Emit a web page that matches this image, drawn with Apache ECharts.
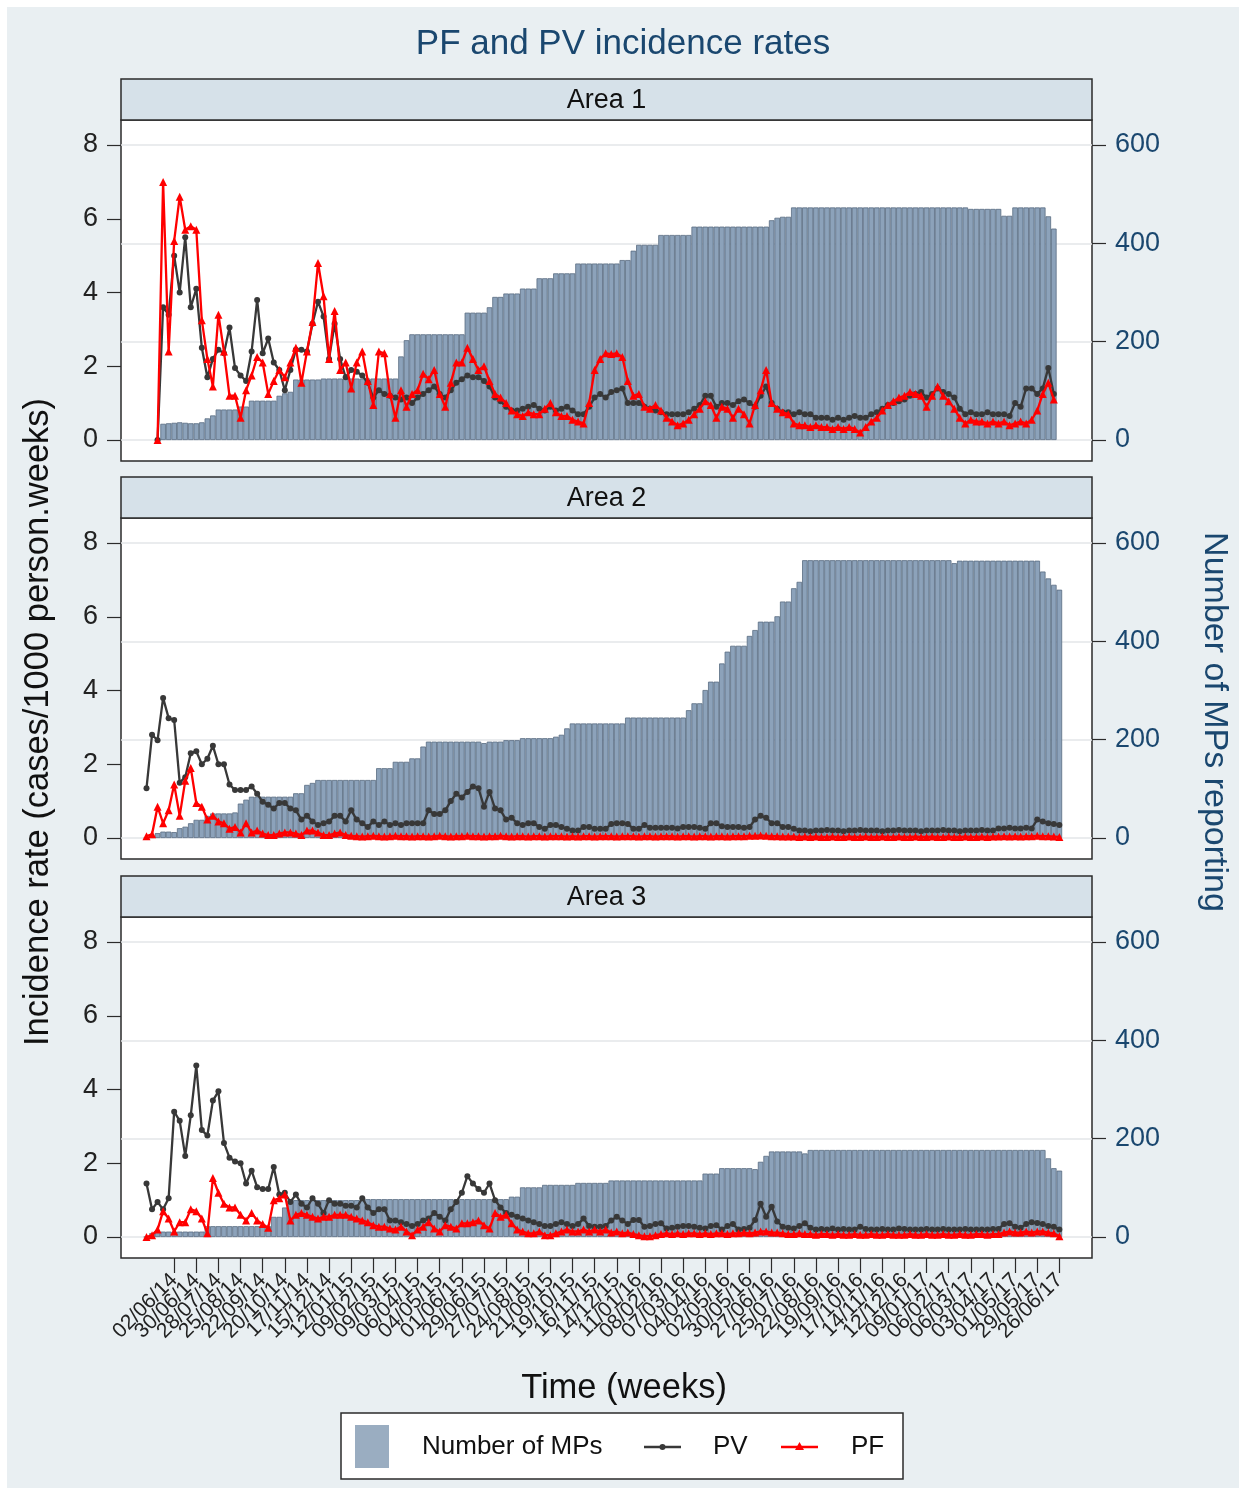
<!DOCTYPE html>
<html>
<head>
<meta charset="utf-8">
<script src="https://cdn.jsdelivr.net/npm/echarts@6/dist/echarts.min.js"></script>
<style>
html,body{margin:0;padding:0;background:#ffffff;overflow:hidden;}
#c{position:absolute;left:7px;top:7px;width:1232px;height:1481px;}
</style>
</head>
<body>
<div id="c"></div>
<script>
// ---------------- DATA ----------------
// weekly points j = 0..165 (first point = week of 28/04/14); tick labels every 4 weeks from j = 5
const tickLabels = ['02/06/14','30/06/14','28/07/14','25/08/14','22/09/14','20/10/14','17/11/14','15/12/14',
 '12/01/15','09/02/15','09/03/15','06/04/15','04/05/15','01/06/15','29/06/15','27/07/15','24/08/15','21/09/15','19/10/15','16/11/15','14/12/15',
 '11/01/16','08/02/16','07/03/16','04/04/16','02/05/16','30/05/16','27/06/16','25/07/16','22/08/16','19/09/16','17/10/16','14/11/16','12/12/16',
 '09/01/17','06/02/17','06/03/17','03/04/17','01/05/17','29/05/17','26/06/17'];
const tickStart = 5, tickStep = 4;
const panelNames = ['Area 1', 'Area 2', 'Area 3'];

// Area 1
const pf1 = [null, null,
 0, 7.0, 2.4, 5.4, 6.6, 5.7, 5.8, 5.7, 3.25, 2.2,
 1.45, 3.4, 2.4, 1.2, 1.2, 0.6, 1.35, 1.75, 2.25, 2.1,
 1.25, 1.6, 1.9, 1.7, 2.1, 2.5, 1.55, 2.4, 3.2, 4.8,
 3.9, 2.2, 3.5, 1.9, 2.1, 1.4, 2.1, 2.4, 1.6, 0.95,
 2.4, 2.35, 1.25, 0.6, 1.35, 0.9, 1.25, 1.35, 1.8, 1.65,
 1.9, 1.25, 0.9, 1.55, 2.1, 2.1, 2.5, 2.2, 1.9, 2.0,
 1.6, 1.25, 1.15, 1.0, 0.8, 0.7, 0.65, 0.75, 0.7, 0.7,
 0.85, 1.0, 0.75, 0.65, 0.65, 0.55, 0.5, 0.45, 1.0, 1.9,
 2.2, 2.35,
 2.33, 2.35, 2.25, 1.6, 1.2, 1.25, 0.9, 0.85, 0.95, 0.8,
 0.6, 0.5, 0.4, 0.45, 0.55, 0.7, 0.85, 1.05, 0.95, 0.6,
 0.9, 0.85, 0.6, 0.85, 0.7, 0.45, 0.95, 1.35, 1.9, 1.0,
 0.85, 0.75, 0.7, 0.45, 0.4, 0.4, 0.35, 0.4, 0.35, 0.35,
 0.3, 0.35, 0.3, 0.35, 0.3, 0.2, 0.35, 0.5, 0.6, 0.8,
 0.95, 1.05, 1.15, 1.2, 1.3, 1.25, 1.2, 0.9, 1.2, 1.45,
 1.2, 1.05, 0.85, 0.6, 0.45, 0.55, 0.5, 0.5, 0.45, 0.5,
 0.45, 0.5, 0.4, 0.45, 0.5, 0.45, 0.55, 0.8, 1.25, 1.55,
 1.1,
 null];
const pv1 = [null, null,
 0, 3.6, 3.4, 5.0, 4.0, 5.5, 3.6, 4.1, 2.5, 1.7,
 2.2, 2.45, 2.35, 3.05, 1.95, 1.75, 1.6, 2.4, 3.8, 2.35,
 2.75, 2.1, 1.9, 1.35, 1.9, 2.45, 2.45, 2.4, 3.15, 3.75,
 3.35, 2.2, 3.15, 2.2, 1.7, 1.9, 1.85, 1.75, 1.55, 1.15,
 1.35, 1.25, 1.2, 1.15, 1.1, 1.15, 1.0, 1.15, 1.25, 1.35,
 1.45, 1.25, 1.15, 1.35, 1.55, 1.65, 1.75, 1.7, 1.7, 1.6,
 1.45, 1.15, 1.05, 0.9, 0.8, 0.8, 0.85, 0.9, 0.95, 0.85,
 0.8, 0.9, 0.8, 0.85, 0.9, 0.8, 0.7, 0.7, 0.9, 1.15,
 1.25, 1.15,
 1.3, 1.35, 1.4, 1.0, 1.0, 1.0, 0.9, 0.85, 0.8, 0.75,
 0.7, 0.7, 0.7, 0.7, 0.75, 0.85, 0.95, 1.2, 1.2, 0.9,
 1.0, 1.0, 0.95, 1.05, 1.1, 1.0, 0.9, 1.2, 1.45, 1.0,
 0.85, 0.75, 0.75, 0.7, 0.75, 0.7, 0.7, 0.6, 0.6, 0.6,
 0.55, 0.6, 0.55, 0.6, 0.65, 0.6, 0.6, 0.7, 0.75, 0.85,
 0.95, 1.0, 1.05, 1.1, 1.2, 1.25, 1.3, 1.15, 1.25, 1.4,
 1.3, 1.25, 1.15, 0.85, 0.7, 0.75, 0.7, 0.7, 0.75, 0.7,
 0.7, 0.7, 0.65, 1.0, 0.9, 1.4, 1.4, 1.25, 1.4, 1.95,
 1.25,
 null];
const mp1 = [null, null,
 0, 33, 34, 35, 36, 35, 34, 34, 36, 44,
 50, 62, 62, 62, 62, 68, 68, 80, 80, 80,
 80, 80, 90, 95, 98, 123, 123, 123, 123, 123,
 125, 125, 125, 125, 125, 125, 125, 125, 125, 125,
 125, 125, 125, 125, 170, 203, 215, 215, 215, 215,
 215, 215, 215, 215, 215, 215, 259, 259, 259, 259,
 270, 291, 291, 298, 298, 298, 308, 308, 308, 329,
 329, 329, 339, 339, 339, 339, 359, 359, 359, 359,
 359, 359, 359, 359, 366, 366, 385, 397, 397, 397,
 397, 417, 417, 417, 417, 417, 417, 434, 434, 434,
 434, 434, 434, 434, 434, 434, 434, 434, 434, 434,
 434, 447, 452, 454, 454, 473, 473, 473, 473, 473,
 473, 473, 473, 473, 473, 473, 473, 473, 473, 473,
 473, 473, 473, 473, 473, 473, 473, 473, 473, 473,
 473, 473, 473, 473, 473, 473, 473, 470, 470, 470,
 470, 470, 470, 456, 456, 473, 473, 473, 473, 473,
 473, 455, 430,
 null];

// Area 2
const pv2 = [
 1.35, 2.8, 2.65, 3.8, 3.25, 3.2, 1.5, 1.65, 2.3, 2.35,
 2.0, 2.15, 2.5, 2.0, 2.0, 1.45, 1.3, 1.3, 1.3, 1.4,
 1.2, 0.98, 0.9, 0.8, 0.95, 0.95, 0.8, 0.75, 0.5, 0.6,
 0.45, 0.35, 0.4, 0.45, 0.6, 0.6, 0.45, 0.75, 0.5, 0.4,
 0.3, 0.45, 0.35, 0.45, 0.35, 0.4, 0.35, 0.4, 0.4, 0.4,
 0.4, 0.75, 0.65, 0.65, 0.75, 1.0, 1.2, 1.1, 1.25, 1.4,
 1.35, 0.85, 1.25, 0.8, 0.75, 0.5, 0.55, 0.4, 0.35, 0.4,
 0.4, 0.3, 0.25, 0.35, 0.35, 0.3, 0.25, 0.2, 0.2, 0.3,
 0.3, 0.25, 0.25, 0.25,
 0.38, 0.4, 0.4, 0.38, 0.25, 0.25, 0.35, 0.28, 0.28, 0.28,
 0.28, 0.28, 0.26, 0.3, 0.3, 0.3, 0.28, 0.25, 0.4, 0.4,
 0.32, 0.3, 0.3, 0.3, 0.28, 0.3, 0.5, 0.6, 0.55, 0.4,
 0.4, 0.3, 0.3, 0.25, 0.2, 0.2, 0.18, 0.2, 0.2, 0.22,
 0.2, 0.2, 0.18, 0.2, 0.2, 0.22, 0.2, 0.2, 0.2, 0.18,
 0.2, 0.2, 0.22, 0.2, 0.2, 0.2, 0.18, 0.2, 0.2, 0.2,
 0.22, 0.2, 0.2, 0.18, 0.2, 0.2, 0.2, 0.22, 0.2, 0.2,
 0.26, 0.26, 0.28, 0.26, 0.26, 0.28, 0.26, 0.5, 0.45, 0.4,
 0.38, 0.35];
const pf2 = [
 0.05, 0.1, 0.85, 0.4, 0.75, 1.45, 0.6, 1.55, 1.9, 0.95,
 0.85, 0.5, 0.6, 0.45, 0.4, 0.25, 0.3, 0.15, 0.4, 0.15,
 0.2, 0.12, 0.08, 0.08, 0.12, 0.15, 0.15, 0.12, 0.08, 0.2,
 0.2, 0.15, 0.08, 0.08, 0.12, 0.15, 0.08,
 0.06, 0.05, 0.04, 0.05, 0.06, 0.05, 0.04, 0.05, 0.06, 0.05,
 0.05, 0.04, 0.05, 0.05, 0.04, 0.05, 0.06, 0.05, 0.04, 0.05,
 0.05, 0.06, 0.05, 0.05, 0.04, 0.05, 0.05, 0.06, 0.05, 0.04,
 0.05, 0.05, 0.04, 0.05, 0.05, 0.04, 0.05, 0.05, 0.05, 0.04,
 0.05, 0.04, 0.05, 0.05, 0.04, 0.05, 0.05, 0.05, 0.04, 0.05,
 0.05, 0.05, 0.04, 0.05, 0.05, 0.04, 0.05, 0.05, 0.05, 0.04,
 0.05, 0.05, 0.04, 0.05, 0.05, 0.04, 0.05, 0.05, 0.04, 0.05,
 0.05, 0.05, 0.06, 0.06, 0.07, 0.06, 0.05, 0.05, 0.04, 0.04,
 0.04, 0.03, 0.04, 0.03, 0.04, 0.03, 0.03, 0.04, 0.03, 0.03,
 0.04, 0.03, 0.03, 0.04, 0.03, 0.03, 0.04, 0.03, 0.03, 0.04,
 0.03, 0.03, 0.04, 0.03, 0.03, 0.04, 0.03, 0.03, 0.04, 0.03,
 0.03, 0.04, 0.03, 0.03, 0.04, 0.03, 0.04, 0.04, 0.05, 0.04,
 0.05, 0.04, 0.05, 0.05, 0.06, 0.05, 0.05, 0.04, 0.03];
const mp2 = [
 0, 5, 10, 13, 13, 12, 20, 23, 30, 37,
 37, 45, 50, 50, 50, 50, 52, 70, 78, 84,
 84, 84, 84, 84, 84, 84, 84, 91, 91, 108,
 112, 118, 118, 118, 118, 118, 118, 118, 118, 118,
 118, 118, 142, 142, 142, 155, 155, 155, 162, 162,
 186, 196, 196, 196, 196, 196, 196, 196, 196, 196,
 196, 193, 196, 196, 196, 199, 199, 199, 203, 203,
 203, 203, 203, 203, 206, 210, 223, 233, 233, 233,
 233, 233, 233, 233, 233, 233, 233, 245, 245, 245,
 245, 245, 245, 245, 245, 245, 245, 245, 260, 274,
 274, 301, 318, 318, 355, 379, 391, 391, 391, 411,
 423, 440, 440, 440, 451, 481, 481, 508, 521, 565,
 565, 565, 565, 565, 565, 565, 565, 565, 565, 565,
 565, 565, 565, 565, 565, 565, 565, 565, 565, 565,
 565, 565, 565, 565, 565, 565, 559, 564, 564, 564,
 564, 564, 564, 564, 564, 564, 564, 564, 564, 564,
 564, 564, 542, 528, 515, 505];

// Area 3
const pv3 = [
 1.45, 0.75, 0.95, 0.75, 1.05, 3.4, 3.15, 2.2, 3.3, 4.65,
 2.9, 2.75, 3.7, 3.95, 2.55, 2.15, 2.05, 2.0, 1.45, 1.8,
 1.35, 1.3, 1.3, 1.9, 1.15, 1.2, 0.95, 1.15, 0.9, 0.8,
 1.05, 0.9, 0.65, 1.0, 0.9, 0.9, 0.85, 0.85, 0.8, 1.05,
 0.8, 0.65, 0.75, 0.75, 0.45, 0.45, 0.4, 0.35, 0.3, 0.35,
 0.45, 0.5, 0.65, 0.55, 0.45, 0.75, 0.95, 1.2, 1.65, 1.45,
 1.3, 1.2, 1.45, 1.0, 0.8, 0.65, 0.6, 0.55, 0.5, 0.45,
 0.4, 0.35, 0.3, 0.3, 0.35, 0.4, 0.35, 0.3, 0.35, 0.5,
 0.3, 0.28, 0.28, 0.3,
 0.45, 0.55, 0.45, 0.35, 0.46, 0.46, 0.28, 0.3, 0.35, 0.37,
 0.23, 0.25, 0.28, 0.3, 0.3, 0.28, 0.25, 0.23, 0.3, 0.32,
 0.2, 0.3, 0.35, 0.2, 0.22, 0.25, 0.46, 0.9, 0.55, 0.82,
 0.42, 0.28, 0.25, 0.23, 0.3, 0.37, 0.25, 0.2, 0.22, 0.2,
 0.23, 0.2, 0.22, 0.2, 0.2, 0.28, 0.22, 0.2, 0.2, 0.22,
 0.2, 0.2, 0.23, 0.22, 0.2, 0.2, 0.2, 0.22, 0.2, 0.2,
 0.22, 0.2, 0.2, 0.2, 0.22, 0.2, 0.2, 0.2, 0.2, 0.22,
 0.22, 0.35, 0.37, 0.28, 0.25, 0.35, 0.4, 0.38, 0.35, 0.3,
 0.28, 0.2];
const pf3 = [
 0, 0.05, 0.2, 0.7, 0.5, 0.15, 0.4, 0.4, 0.75, 0.7,
 0.5, 0.1, 1.6, 1.2, 0.9, 0.8, 0.8, 0.6, 0.45, 0.65,
 0.45, 0.35, 0.25, 1.0, 1.05, 1.15, 0.45, 0.6, 0.65, 0.6,
 0.55, 0.5, 0.55, 0.55, 0.6, 0.6, 0.6, 0.55, 0.5, 0.45,
 0.4, 0.32, 0.28, 0.28, 0.23, 0.2, 0.28, 0.15, 0.05, 0.2,
 0.28, 0.4, 0.23, 0.15, 0.32, 0.28, 0.23, 0.37, 0.37, 0.4,
 0.45, 0.32, 0.23, 0.65, 0.55, 0.6, 0.37, 0.2, 0.15, 0.1,
 0.1, 0.15, 0.05, 0.05, 0.1, 0.15, 0.2, 0.15, 0.15, 0.2,
 0.15, 0.2, 0.15, 0.2,
 0.12, 0.15, 0.1, 0.12, 0.08, 0.05, 0.02, 0.02, 0.05, 0.08,
 0.1, 0.08, 0.1, 0.08, 0.1, 0.1, 0.08, 0.1, 0.08, 0.1,
 0.1, 0.08, 0.1, 0.1, 0.12, 0.1, 0.12, 0.15, 0.15, 0.12,
 0.12, 0.1, 0.08, 0.08, 0.1, 0.08, 0.08, 0.06, 0.08, 0.08,
 0.06, 0.08, 0.06, 0.06, 0.08, 0.06, 0.06, 0.08, 0.06, 0.06,
 0.08, 0.06, 0.06, 0.06, 0.08, 0.06, 0.06, 0.08, 0.06, 0.06,
 0.08, 0.06, 0.06, 0.08, 0.06, 0.06, 0.08, 0.08, 0.06, 0.08,
 0.08, 0.12, 0.15, 0.12, 0.12, 0.15, 0.12, 0.15, 0.15, 0.12,
 0.1, 0.02];
const mp3 = [
 0, 8, 11, 11, 11, 11, 11, 11, 11, 11,
 11, 22, 22, 22, 22, 22, 22, 22, 22, 22,
 22, 22, 22, 41, 41, 60, 75, 75, 75, 75,
 75, 75, 75, 75, 75, 75, 75, 75, 75, 75,
 77, 77, 77, 77, 77, 77, 77, 77, 77, 77,
 77, 77, 77, 77, 77, 77, 77, 77, 77, 77,
 77, 77, 77, 77, 77, 77, 82, 82, 101, 101,
 101, 101, 106, 106, 106, 106, 106, 106, 110, 110,
 110, 110, 110, 110, 115, 115, 115, 115, 115, 115,
 115, 115, 115, 115, 115, 115, 115, 115, 115, 115,
 115, 129, 129, 129, 140, 140, 140, 140, 140, 140,
 138, 153, 165, 174, 174, 174, 174, 174, 174, 170,
 177, 177, 177, 177, 177, 177, 177, 177, 177, 177,
 177, 177, 177, 177, 177, 177, 177, 177, 177, 177,
 177, 177, 177, 177, 177, 177, 177, 177, 177, 177,
 177, 177, 177, 177, 177, 177, 177, 177, 177, 177,
 177, 177, 177, 160, 140, 135];

const panels = [
  { name: panelNames[0], mp: mp1, pv: pv1, pf: pf1 },
  { name: panelNames[1], mp: mp2, pv: pv2, pf: pf2 },
  { name: panelNames[2], mp: mp3, pv: pv3, pf: pf3 }
];

// ---------------- LAYOUT / STYLE ----------------
const OFF = 7;                       // container offset inside the white page margin
const FONT = '"Liberation Sans", Arial, Helvetica, sans-serif';
const NAVY = '#1a476f';
const FRAME = '#2b2b2b';
const LEFT = 121, RIGHT = 1092, HEADER_H = 41, PLOT_H = 341;
const panelTops = [79, 477, 876];
const XMIN = -4.61, XMAX = 170.9;
const YMIN = -0.5695, YMAX = 8.678;
const RATIO = 75;                    // 600 MPs on the right axis == 8 on the left axis
const leftTicks = [0, 2, 4, 6, 8];
const rightTicks = [0, 200, 400, 600];
const BAR_FILL = '#8ca2ba', BAR_EDGE = '#596c82';
const PV_COLOR = '#383838', PF_COLOR = '#ff0000';

const xTickValues = tickLabels.map((_, k) => tickStart + k * tickStep);
// blank guard labels at both ends so the library's min/max overlap check keeps every real label
const xLabelValues = [XMIN + 0.05].concat(xTickValues, [XMAX - 0.05]);

function pairs(arr) {
  const out = [];
  arr.forEach((v, j) => { if (v !== null && v !== undefined) out.push([j, v]); });
  return out;
}

const grids = [], xAxes = [], yAxes = [], series = [];
panels.forEach((p, k) => {
  const top = panelTops[k] + HEADER_H;
  grids.push({
    left: LEFT - OFF, top: top - OFF, width: RIGHT - LEFT, height: PLOT_H,
    show: true, backgroundColor: '#ffffff', borderColor: FRAME, borderWidth: 1.5,
    containLabel: false, outerBoundsMode: 'none'
  });
  const isBottom = k === panels.length - 1;
  xAxes.push({
    type: 'value', gridIndex: k, position: 'bottom', min: XMIN, max: XMAX,
    splitLine: { show: false },
    axisLine: { show: false, onZero: false },
    axisTick: { show: isBottom, customValues: xTickValues, length: 15, lineStyle: { color: FRAME, width: 1.2 } },
    axisLabel: {
      show: isBottom, customValues: xLabelValues, rotate: 45, margin: 19,
      showMinLabel: true, showMaxLabel: true, hideOverlap: false,
      fontSize: 21, fontFamily: FONT, color: '#222',
      formatter: v => {
        const idx = (v - tickStart) / tickStep;
        return (Math.abs(idx - Math.round(idx)) < 1e-6 && tickLabels[Math.round(idx)]) || ' ';
      }
    }
  });
  yAxes.push({
    type: 'value', gridIndex: k, position: 'left', min: YMIN, max: YMAX,
    splitLine: { show: false }, axisLine: { show: false, onZero: false },
    axisTick: { show: true, customValues: leftTicks, length: 14, lineStyle: { color: FRAME, width: 1.2 } },
    axisLabel: { customValues: leftTicks, showMinLabel: true, showMaxLabel: true,
                 fontSize: 27, fontFamily: FONT, color: '#222', margin: 23 }
  });
  yAxes.push({
    type: 'value', gridIndex: k, position: 'right', min: YMIN * RATIO, max: YMAX * RATIO,
    splitLine: { show: false }, axisLine: { show: false, onZero: false },
    axisTick: { show: true, customValues: rightTicks, length: 14, lineStyle: { color: FRAME, width: 1.2 } },
    axisLabel: { customValues: rightTicks, showMinLabel: true, showMaxLabel: true,
                 fontSize: 27, fontFamily: FONT, color: NAVY, margin: 23 }
  });
  series.push({
    name: 'Number of MPs', type: 'bar', xAxisIndex: k, yAxisIndex: 2 * k + 1,
    data: pairs(p.mp), barWidth: 5.53, z: 2,
    itemStyle: { color: BAR_FILL, borderColor: BAR_EDGE, borderWidth: 0.8 },
    emphasis: { disabled: true },
    markLine: {
      silent: true, z: 1, symbol: ['none', 'none'], label: { show: false },
      lineStyle: { color: '#e3e6e8', width: 1.5, type: 'solid' },
      emphasis: { disabled: true },
      data: rightTicks.map(v => ({ yAxis: v }))
    }
  });
  series.push({
    name: 'PV', type: 'line', xAxisIndex: k, yAxisIndex: 2 * k,
    data: pairs(p.pv), z: 3, showSymbol: true, showAllSymbol: true,
    symbol: 'circle', symbolSize: 6,
    lineStyle: { color: PV_COLOR, width: 2.3 }, itemStyle: { color: PV_COLOR },
    emphasis: { disabled: true }
  });
  series.push({
    name: 'PF', type: 'line', xAxisIndex: k, yAxisIndex: 2 * k,
    data: pairs(p.pf), z: 4, showSymbol: true, showAllSymbol: true,
    symbol: 'triangle', symbolSize: 8,
    lineStyle: { color: PF_COLOR, width: 2.3 }, itemStyle: { color: PF_COLOR },
    emphasis: { disabled: true }
  });
});

function txt(x, y, text, size, color, rot) {
  return {
    type: 'text', x: x - OFF, y: y - OFF, rotation: rot || 0, z: 100,
    style: { text: text, fontSize: size, fontFamily: FONT, fill: color,
             align: 'center', verticalAlign: 'middle', textAlign: 'center', textVerticalAlign: 'middle' }
  };
}

const graphics = [];
// title
graphics.push(txt(623, 44, 'PF and PV incidence rates', 35, NAVY));
// strip headers
panels.forEach((p, k) => {
  graphics.push({
    type: 'rect', z: 100,
    shape: { x: LEFT - OFF, y: panelTops[k] - OFF, width: RIGHT - LEFT, height: HEADER_H },
    style: { fill: '#d6e1e9', stroke: FRAME, lineWidth: 1.5 }
  });
  graphics.push(txt((LEFT + RIGHT) / 2, panelTops[k] + HEADER_H / 2 + 1, p.name, 27, '#111'));
});
// axis titles
graphics.push(txt(38, 722, 'Incidence rate (cases/1000 person.weeks)', 34.5, '#111', Math.PI / 2));
graphics.push(txt(1214, 722, 'Number of MPs reporting', 34, NAVY, -Math.PI / 2));
graphics.push(txt(624, 1388, 'Time (weeks)', 34.5, '#111'));
// legend
const LG = { x: 341, y: 1413, w: 562, h: 66 };
graphics.push({ type: 'rect', z: 100, shape: { x: LG.x - OFF, y: LG.y - OFF, width: LG.w, height: LG.h },
  style: { fill: '#ffffff', stroke: FRAME, lineWidth: 1.5 } });
graphics.push({ type: 'rect', z: 101, shape: { x: 355 - OFF, y: 1425 - OFF, width: 34, height: 43 },
  style: { fill: '#9aadc1' } });
graphics.push({ type: 'text', x: 422 - OFF, y: 1447 - OFF, z: 101,
  style: { text: 'Number of MPs', fontSize: 26, fontFamily: FONT, fill: '#111', align: 'left', verticalAlign: 'middle', textAlign: 'left', textVerticalAlign: 'middle' } });
graphics.push({ type: 'line', z: 101, shape: { x1: 644 - OFF, y1: 1447 - OFF, x2: 681 - OFF, y2: 1447 - OFF },
  style: { stroke: PV_COLOR, lineWidth: 2.3 } });
graphics.push({ type: 'circle', z: 102, shape: { cx: 662.5 - OFF, cy: 1447 - OFF, r: 3 }, style: { fill: PV_COLOR } });
graphics.push({ type: 'text', x: 713 - OFF, y: 1447 - OFF, z: 101,
  style: { text: 'PV', fontSize: 26, fontFamily: FONT, fill: '#111', align: 'left', verticalAlign: 'middle', textAlign: 'left', textVerticalAlign: 'middle' } });
graphics.push({ type: 'line', z: 101, shape: { x1: 781 - OFF, y1: 1447 - OFF, x2: 818 - OFF, y2: 1447 - OFF },
  style: { stroke: PF_COLOR, lineWidth: 2.3 } });
graphics.push({ type: 'polygon', z: 102, shape: { points: [[799.5 - OFF, 1442 - OFF], [804 - OFF, 1450 - OFF], [795 - OFF, 1450 - OFF]] },
  style: { fill: PF_COLOR } });
graphics.push({ type: 'text', x: 851 - OFF, y: 1447 - OFF, z: 101,
  style: { text: 'PF', fontSize: 26, fontFamily: FONT, fill: '#111', align: 'left', verticalAlign: 'middle', textAlign: 'left', textVerticalAlign: 'middle' } });

const chart = echarts.init(document.getElementById('c'), null, { renderer: 'canvas' });
chart.setOption({
  backgroundColor: '#e9eff2',
  animation: false,
  textStyle: { fontFamily: FONT },
  grid: grids,
  xAxis: xAxes,
  yAxis: yAxes,
  series: series,
  graphic: { elements: graphics }
});
</script>
</body>
</html>
